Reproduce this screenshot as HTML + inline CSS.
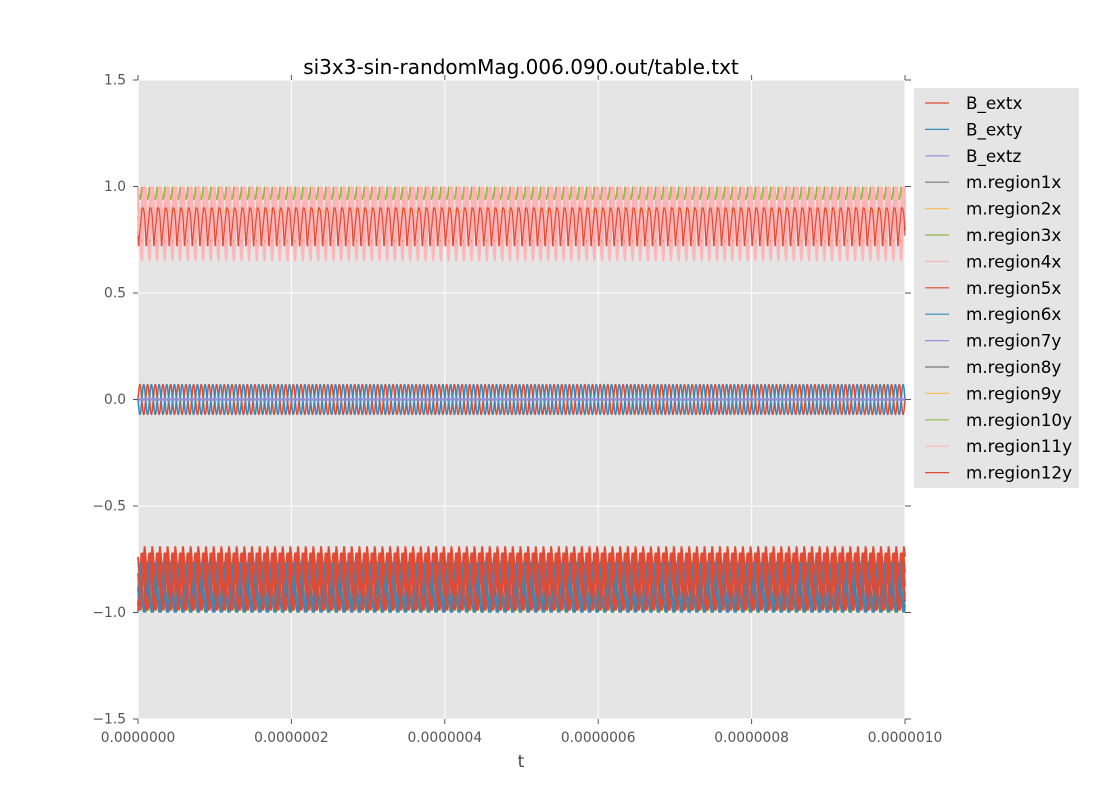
<!DOCTYPE html>
<html><head><meta charset="utf-8"><style>
body{margin:0;background:#fff;}
svg text{font-family:"DejaVu Sans","Liberation Sans",sans-serif;}
</style></head><body>
<svg id="s" width="1100" height="800" xmlns="http://www.w3.org/2000/svg">
<rect width="1100" height="800" fill="#fff"/>
<rect x="138" y="80" width="767" height="639" fill="#E5E5E5"/>
<g id="grid" stroke="#fff" stroke-width="1"></g>
<g id="data"></g>
<g id="ax" fill="#555" font-size="13.8"></g>
<text x="521" y="74" font-size="20" text-anchor="middle" fill="#000">si3x3-sin-randomMag.006.090.out/table.txt</text>
<text x="521" y="767" font-size="17" text-anchor="middle" fill="#444">t</text>
<rect x="914" y="88" width="165" height="400" fill="#E5E5E5"/>
<g id="leg" font-size="16.8" fill="#000"></g>
</svg>
<script>
var NS="http://www.w3.org/2000/svg";
function el(p,t,a,txt){var e=document.createElementNS(NS,t);for(var k in a)e.setAttribute(k,a[k]);if(txt!=null)e.textContent=txt;document.getElementById(p).appendChild(e);return e;}
var X0=138,X1=905,Y0=399.5,S=213;
function Y(v){return Y0-v*S;}
var xt=["0.0000000","0.0000002","0.0000004","0.0000006","0.0000008","0.0000010"];
for(var i=0;i<6;i++){var x=X0+i*(X1-X0)/5;
 el("grid","line",{x1:x,x2:x,y1:80,y2:719});
 el("ax","line",{x1:x,x2:x,y1:719,y2:724,stroke:"#555"});
 el("ax","line",{x1:x,x2:x,y1:75,y2:80,stroke:"#555"});
 el("ax","text",{x:x,y:742,"text-anchor":"middle"},xt[i]);}
var yt=[1.5,1.0,0.5,0.0,-0.5,-1.0,-1.5];
for(var i=0;i<7;i++){var v=yt[i],y=Y(v);
 el("grid","line",{x1:X0,x2:X1,y1:y,y2:y});
 el("ax","line",{x1:133,x2:138,y1:y,y2:y,stroke:"#555"});
 el("ax","line",{x1:905,x2:911,y1:y,y2:y,stroke:"#555"});
 el("ax","text",{x:126,y:y+4.5,"text-anchor":"end"},(v<0?"\u2212":"")+Math.abs(v).toFixed(1));}
var P=100,N=8000;
function series(f,col,w){var d="";for(var i=0;i<=N;i++){var t=i/N;var ph=(t*P)%1;var x=X0+t*(X1-X0);d+=(i?"L":"M")+x.toFixed(2)+" "+Y(f(ph,t)).toFixed(2);}
 el("data","path",{d:d,fill:"none",stroke:col,"stroke-width":w||1});}
function saw(lo,hi,off,pw){return function(p){var q=(p+off)%1;return q<0.5?hi-(hi-lo)*Math.pow(q*2,pw):lo+(hi-lo)*(q-0.5)*2;};}
// top band
series(function(p){return 1-0.06*Math.abs(Math.sin(Math.PI*p*2));},"#8EBA42",1.5);
series(function(p){return 1-0.12*Math.abs(Math.sin(Math.PI*(p+0.2)));},"#FBC15E",1.5);
for(var k=0;k<3;k++)series(saw(0.72,1.0,0.1+k*0.12,0.8),"#E24A33",1.5);
for(var k=0;k<4;k++)series(saw(k==0?0.65:0.75,1.0,k*0.09,0.6),"#FFB5B8",2.2);
series(saw(0.72,0.9,0.45,3),"#E24A33",1.2);
// middle
series(function(p){return 0.07*Math.sin(2*Math.PI*p);},"#E24A33",1.5);
series(function(p){return -0.07*Math.sin(2*Math.PI*p);},"#348ABD",1.5);
series(function(p){return 0;},"#988ED5",2.5);
// bottom band
series(function(p){return -1+0.05*Math.abs(Math.sin(Math.PI*p));},"#FBC15E",2);
series(function(p){return -1+0.1*Math.abs(Math.sin(Math.PI*(p+0.3)));},"#8EBA42",1.5);
for(var k=0;k<2;k++)series(saw(-1.0,-0.76,0.5+k*0.2,0.3),"#348ABD",1.6);
for(var k=0;k<5;k++)series(saw(-0.99,k==0?-0.69:-0.72,0.15+k*0.1,1.5),"#E24A33",1.8);
series(saw(-1.0,-0.76,0.62,0.2),"#348ABD",1.0);
var L=[["B_extx","#E24A33"],["B_exty","#348ABD"],["B_extz","#988ED5"],["m.region1x","#777777"],["m.region2x","#FBC15E"],["m.region3x","#8EBA42"],["m.region4x","#FFB5B8"],["m.region5x","#E24A33"],["m.region6x","#348ABD"],["m.region7y","#988ED5"],["m.region8y","#777777"],["m.region9y","#FBC15E"],["m.region10y","#8EBA42"],["m.region11y","#FFB5B8"],["m.region12y","#E24A33"]];
for(var i=0;i<L.length;i++){var y=103+i*26.4;
 el("leg","line",{x1:925,x2:949,y1:y,y2:y,stroke:L[i][1],"stroke-width":1.2});
 el("leg","text",{x:966,y:y+6},L[i][0]);}
</script>
</body></html>
